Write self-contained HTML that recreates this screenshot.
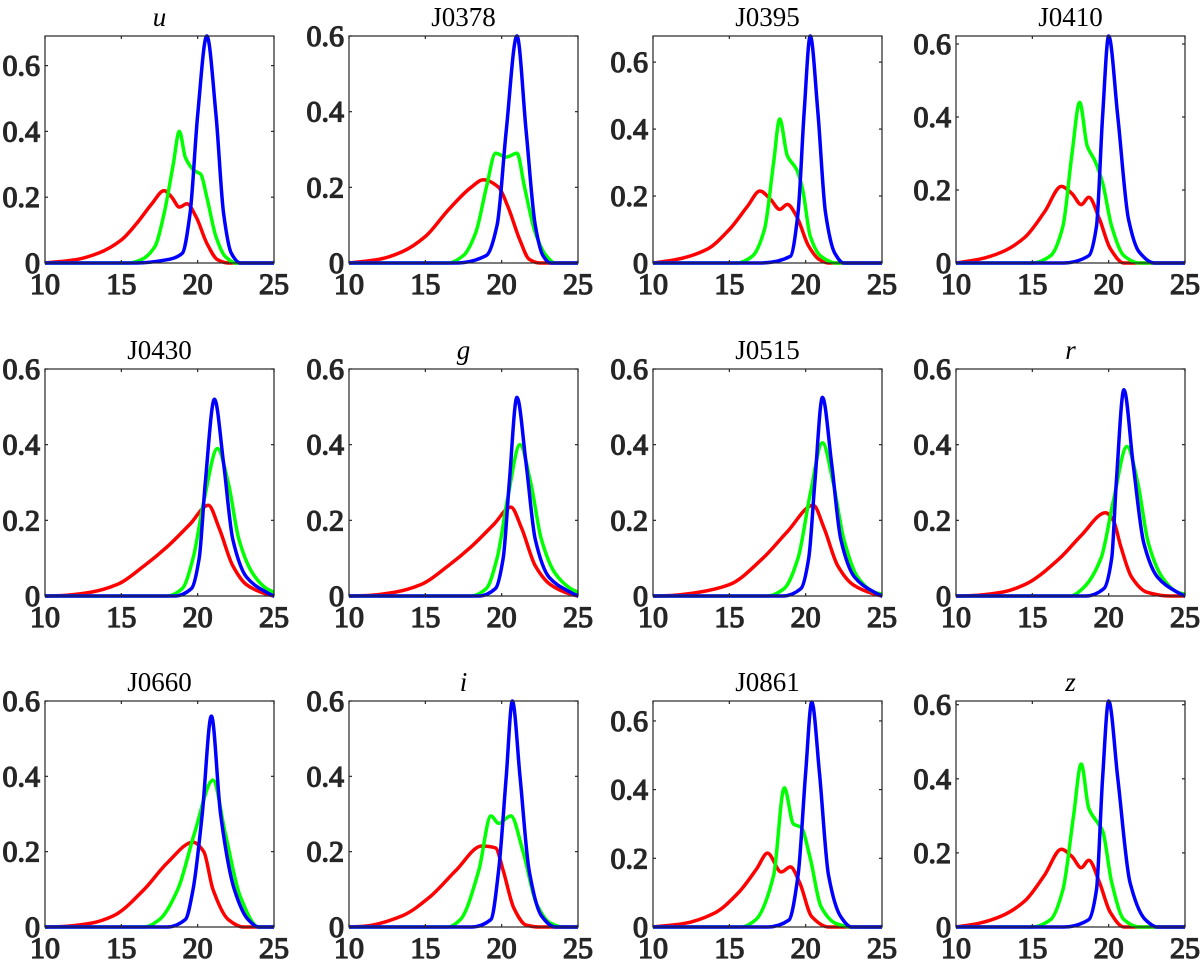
<!DOCTYPE html>
<html><head><meta charset="utf-8">
<style>
html,body{margin:0;padding:0;background:#fff;}
svg{display:block;}
</style></head>
<body>
<svg id="chart" width="1200" height="963" viewBox="0 0 1200 963"></svg>
<script>
const panelTitles = ["u","J0378","J0395","J0410","J0430","g","J0515","r","J0660","i","J0861","z"];
const italicTitles = ["u","g","r","i","z"];
const yMaxes = [0.69,0.6,0.678,0.622,0.6,0.6,0.6,0.6,0.6,0.6,0.658,0.61];
const xTickValues = [10,15,20,25];
const yTickValues = [0,0.2,0.4,0.6];
const yTickLabels = ["0","0.2","0.4","0.6"];
const seriesNames = ["red","green","blue"];
const seriesColors = ["#ff0000","#00ff00","#0000ff"];

const redSeries = [
 [[10,0],[12,0.01],[13.5,0.03],[15,0.07],[16,0.12],[17,0.18],[17.8,0.22],[18.3,0.2],[18.8,0.17],[19.3,0.18],[19.9,0.14],[20.6,0.06],[21.3,0.01],[22,0],[25,0]],
 [[10,0],[12,0.01],[13.5,0.03],[15,0.07],[16.5,0.14],[18,0.2],[18.8,0.22],[19.8,0.2],[20.4,0.15],[21.2,0.06],[21.8,0.01],[22.5,0],[25,0]],
 [[10,0],[11.5,0.01],[13.5,0.04],[15,0.1],[16.2,0.17],[17,0.215],[17.7,0.19],[18.3,0.16],[18.8,0.175],[19.4,0.14],[20.2,0.05],[20.9,0.01],[21.5,0],[25,0]],
 [[10,0],[11.5,0.01],[13,0.03],[14.5,0.07],[15.8,0.14],[16.9,0.21],[17.6,0.19],[18.2,0.16],[18.7,0.18],[19.4,0.12],[20.1,0.04],[21,0],[25,0]],
 [[10,0],[11,0.001],[13,0.01],[14.7,0.03],[16.5,0.08],[18,0.13],[19.5,0.19],[20.7,0.24],[21.4,0.18],[22.3,0.08],[23.2,0.03],[24.5,0.005],[25,0]],
 [[10,0],[11,0.001],[13,0.01],[14.7,0.03],[16.5,0.08],[18,0.13],[19.5,0.19],[20.6,0.235],[21.3,0.18],[22.2,0.08],[23.2,0.03],[24.5,0.005],[25,0]],
 [[10,0],[11,0.001],[13,0.01],[15,0.03],[17.2,0.1],[18.8,0.17],[20.5,0.24],[21.2,0.18],[22.1,0.08],[23.1,0.03],[24.5,0.005],[25,0]],
 [[10,0],[11,0.001],[13,0.01],[14.5,0.03],[16.8,0.1],[18.2,0.16],[19.8,0.22],[20.3,0.2],[20.8,0.13],[21.5,0.05],[22.5,0.01],[24,0],[25,0]],
 [[10,0],[11,0.001],[13,0.01],[14.5,0.03],[16.5,0.1],[18,0.17],[19.7,0.225],[20.4,0.2],[21,0.1],[22,0.02],[23,0],[25,0]],
 [[10,0],[11,0.002],[13.5,0.03],[15.3,0.08],[17,0.15],[18.7,0.215],[19.6,0.21],[20.1,0.15],[20.8,0.05],[21.6,0.005],[22.5,0],[25,0]],
 [[10,0],[12,0.01],[14,0.04],[15.6,0.1],[16.8,0.17],[17.5,0.215],[18.4,0.16],[19,0.175],[19.6,0.13],[20.4,0.03],[21.5,0],[25,0]],
 [[10,0],[11.5,0.01],[13,0.03],[14.5,0.07],[15.8,0.14],[16.9,0.21],[17.6,0.19],[18.2,0.16],[18.7,0.18],[19.4,0.12],[20.1,0.04],[21,0],[25,0]]
];
const greenSeries = [
 [[10,0],[15.5,0],[16.3,0.01],[17.2,0.05],[17.8,0.15],[18.4,0.3],[18.8,0.4],[19.2,0.32],[19.8,0.28],[20.2,0.27],[20.6,0.2],[21.2,0.08],[21.8,0.02],[22.5,0],[25,0]],
 [[10,0],[16.5,0],[17.5,0.02],[18.3,0.08],[19,0.2],[19.6,0.29],[20.3,0.28],[21,0.29],[21.5,0.2],[22.2,0.08],[22.9,0.02],[23.5,0],[25,0]],
 [[10,0],[15.5,0],[16.5,0.02],[17.3,0.1],[17.9,0.3],[18.3,0.43],[18.8,0.32],[19.4,0.28],[19.8,0.22],[20.3,0.08],[21,0.02],[22,0],[25,0]],
 [[10,0],[15,0],[16.2,0.02],[17,0.1],[17.6,0.3],[18.1,0.44],[18.6,0.32],[19.1,0.28],[19.6,0.22],[20.2,0.1],[21,0.02],[22,0],[25,0]],
 [[10,0],[18,0],[19,0.02],[19.7,0.1],[20.4,0.25],[21.3,0.39],[22,0.3],[22.7,0.15],[23.6,0.06],[24.5,0.02],[25,0.01]],
 [[10,0],[18,0],[19,0.02],[19.7,0.1],[20.4,0.26],[21.2,0.4],[21.9,0.3],[22.6,0.15],[23.5,0.06],[24.5,0.02],[25,0.01]],
 [[10,0],[17.5,0],[18.6,0.02],[19.5,0.1],[20.3,0.27],[21.1,0.405],[21.8,0.3],[22.5,0.15],[23.4,0.05],[24.5,0.01],[25,0.005]],
 [[10,0],[17.5,0],[18.3,0.02],[19.5,0.1],[20.3,0.25],[21.2,0.395],[21.9,0.3],[22.6,0.14],[23.5,0.05],[24.5,0.01],[25,0.005]],
 [[10,0],[16.5,0],[17.5,0.02],[18.7,0.1],[19.8,0.25],[21,0.39],[21.8,0.25],[22.8,0.08],[24,0],[25,0]],
 [[10,0],[16.5,0],[17.3,0.02],[18.5,0.15],[19.3,0.295],[19.8,0.275],[20.6,0.295],[21.4,0.2],[22.3,0.06],[23.2,0.01],[24,0],[25,0]],
 [[10,0],[15.8,0],[16.7,0.02],[17.9,0.15],[18.6,0.405],[19.2,0.3],[19.7,0.29],[20.3,0.2],[21,0.06],[22,0.01],[23,0],[25,0]],
 [[10,0],[15,0],[16.2,0.02],[17,0.1],[17.7,0.3],[18.2,0.44],[18.7,0.32],[19.3,0.28],[19.6,0.26],[20.2,0.12],[21,0.02],[22,0],[25,0]]
];
const blueSeries = [
 [[10,0],[16,0],[18,0.01],[19,0.03],[19.5,0.15],[20,0.45],[20.6,0.69],[21.2,0.45],[21.7,0.15],[22.2,0.03],[22.8,0],[25,0]],
 [[10,0],[17,0],[19,0.02],[19.7,0.1],[20.3,0.35],[21,0.6],[21.6,0.35],[22.2,0.1],[22.7,0.02],[23.2,0],[25,0]],
 [[10,0],[17,0],[19,0.02],[19.5,0.15],[19.9,0.45],[20.3,0.678],[20.8,0.45],[21.3,0.15],[21.9,0.03],[22.5,0],[25,0]],
 [[10,0],[17,0],[18.7,0.02],[19.2,0.1],[19.6,0.4],[20,0.622],[20.6,0.4],[21.3,0.12],[22,0.03],[23,0],[25,0]],
 [[10,0],[18.5,0],[19.6,0.02],[20.1,0.1],[20.5,0.3],[21.1,0.52],[21.7,0.35],[22.3,0.15],[23.2,0.05],[24.5,0.01],[25,0]],
 [[10,0],[18.5,0],[19.6,0.02],[20.1,0.1],[20.5,0.3],[21,0.525],[21.6,0.35],[22.2,0.15],[23.1,0.05],[24.5,0.01],[25,0]],
 [[10,0],[18.5,0],[19.7,0.02],[20.2,0.1],[20.6,0.3],[21.1,0.525],[21.7,0.35],[22.3,0.15],[23.2,0.05],[24.5,0.01],[25,0]],
 [[10,0],[18.5,0],[19.7,0.02],[20.2,0.1],[20.5,0.3],[21,0.545],[21.6,0.35],[22.3,0.14],[23.2,0.05],[24.5,0.01],[25,0]],
 [[10,0],[18,0],[19.2,0.02],[19.7,0.1],[20.3,0.3],[20.9,0.56],[21.5,0.3],[22.4,0.1],[23.3,0.02],[24,0],[25,0]],
 [[10,0],[18,0],[19.3,0.02],[19.8,0.15],[20.3,0.4],[20.7,0.6],[21.2,0.4],[21.8,0.15],[22.6,0.03],[23.5,0],[25,0]],
 [[10,0],[17.5,0],[18.9,0.02],[19.5,0.15],[20,0.45],[20.4,0.655],[20.9,0.45],[21.5,0.15],[22.3,0.03],[23,0],[25,0]],
 [[10,0],[17,0],[18.7,0.02],[19.2,0.1],[19.6,0.4],[20,0.61],[20.6,0.4],[21.4,0.12],[22.4,0.02],[23.2,0],[25,0]]
];

const NS = "http://www.w3.org/2000/svg";
const svg = document.getElementById("chart");
const colLeft = [45,349,653,956];
const rowTop = [36,369,701];
const rowBottom = [263,596,927];
const plotW = 229;
const xMin = 10, xMax = 25;
const SERIF = "'Liberation Serif', 'Times New Roman', serif";

function mk(tag, attrs, parent){
  const e = document.createElementNS(NS, tag);
  for (const k in attrs) e.setAttribute(k, attrs[k]);
  (parent||svg).appendChild(e);
  return e;
}
function monotonePath(pts, sx, sy){
  const n = pts.length;
  const xs = pts.map(p=>p[0]), ys = pts.map(p=>p[1]);
  const d = [], m = new Array(n);
  for (let i=0;i<n-1;i++) d.push((ys[i+1]-ys[i])/(xs[i+1]-xs[i]));
  m[0]=d[0]; m[n-1]=d[n-2];
  for (let i=1;i<n-1;i++){
    if (d[i-1]*d[i] <= 0) m[i]=0;
    else { const w1=2*(xs[i+1]-xs[i])+(xs[i]-xs[i-1]), w2=(xs[i+1]-xs[i])+2*(xs[i]-xs[i-1]);
      m[i]=(w1+w2)/(w1/d[i-1]+w2/d[i]); }
  }
  let s = "M"+sx(xs[0]).toFixed(2)+","+sy(ys[0]).toFixed(2);
  for (let i=0;i<n-1;i++){
    const h = xs[i+1]-xs[i];
    s += " C"+sx(xs[i]+h/3).toFixed(2)+","+sy(ys[i]+m[i]*h/3).toFixed(2)+" "+
         sx(xs[i+1]-h/3).toFixed(2)+","+sy(ys[i+1]-m[i+1]*h/3).toFixed(2)+" "+
         sx(xs[i+1]).toFixed(2)+","+sy(ys[i+1]).toFixed(2);
  }
  return s;
}
const tickAttrs = {"font-family":SERIF, "font-weight":"normal", "font-size":"30", fill:"#262626", stroke:"#262626", "stroke-width":"1.3"};

panelTitles.forEach((title, p) => {
  const L = colLeft[p%4], T = rowTop[Math.floor(p/4)], B = rowBottom[Math.floor(p/4)];
  const R = L + plotW;
  const yMax = yMaxes[p];
  const sx = v => L + (v - xMin)/(xMax - xMin)*plotW;
  const sy = v => B - v/yMax*(B - T);
  const g = mk("g", {});
  
  

  const clipId = "clip"+p;
  const cp = mk("clipPath", {id: clipId}, g);
  mk("rect", {x:L, y:T-3, width:plotW, height:B-T+6}, cp);

  const allSeries = [redSeries[p], greenSeries[p], blueSeries[p]];
  allSeries.forEach((pts, s) => {
    const path = mk("path", {d: monotonePath(pts, sx, sy), fill:"none", stroke:seriesColors[s], "stroke-width":3.5, "stroke-linejoin":"round", "stroke-linecap":"round", "clip-path":"url(#"+clipId+")"}, g);
    
    
  });

  const box = mk("rect", {x:L, y:T, width:plotW, height:B-T, fill:"none", stroke:"#262626", "stroke-width":1.2}, g);
  
  

  xTickValues.forEach(v => {
    const x = sx(v);
    mk("line", {x1:x, y1:B, x2:x, y2:B-3, stroke:"#262626", "stroke-width":1.2}, g);
    mk("line", {x1:x, y1:T, x2:x, y2:T+3, stroke:"#262626", "stroke-width":1.2}, g);
    const t = mk("text", Object.assign({x:x, y:B+31, "text-anchor":"middle"}, tickAttrs), g);
    t.textContent = String(v);
    
    
  });
  yTickValues.forEach((v, i) => {
    if (v > yMax + 1e-9) return;
    const y = sy(v);
    mk("line", {x1:L, y1:y, x2:L+3, y2:y, stroke:"#262626", "stroke-width":1.2}, g);
    mk("line", {x1:R, y1:y, x2:R-3, y2:y, stroke:"#262626", "stroke-width":1.2}, g);
    const t = mk("text", Object.assign({x:L-5, y:y+10, "text-anchor":"end"}, tickAttrs), g);
    t.textContent = yTickLabels[i];
    
    
  });
  const tt = mk("text", {x:L+plotW/2, y:T-10, "text-anchor":"middle", "font-family":SERIF, "font-size":"27", fill:"#000"}, g);
  if (italicTitles.includes(title)) tt.setAttribute("font-style","italic");
  tt.textContent = title;
  
  
});
</script>
</body></html>
